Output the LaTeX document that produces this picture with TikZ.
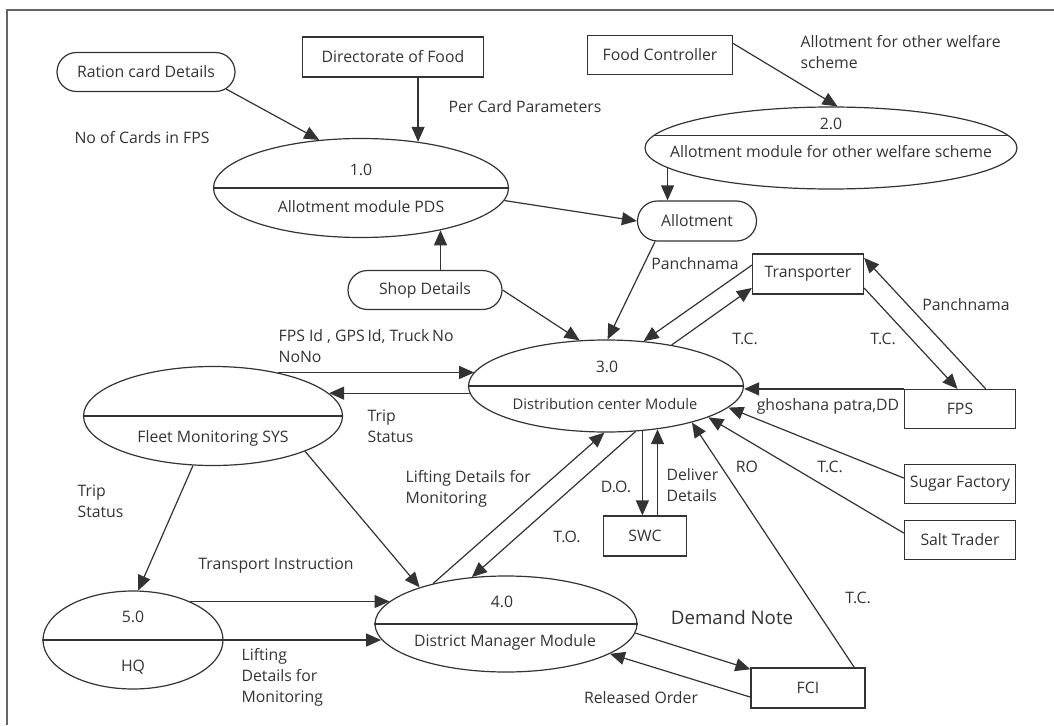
\documentclass[tikz,border=0pt]{standalone}
\usepackage{fontspec}
\setmainfont{Open Sans}
\usetikzlibrary{arrows.meta,shapes.geometric,shapes.misc}

\tikzset{
  proc/.style={draw, ellipse, inner sep=0pt},
  store/.style={draw, rounded rectangle, inner sep=0pt},
  ent/.style={draw, rectangle, inner sep=0pt},
  lbl/.style={align=left, inner sep=0pt},
}

\begin{document}
\begin{tikzpicture}[x=1pt, y=-1pt, line width=1.2pt, color=black!80,
  >={Triangle[length=15pt,width=13pt]}, font=\fontsize{15.8}{21}\selectfont]

\useasboundingbox (0,0) rectangle (1054,725);
\draw[line width=2pt, black!60] (7,725)--(7,10)--(1054,10);

% processes
\node[proc, minimum width=295pt, minimum height=99pt] (p1) at (361,188) {};
\node[proc, minimum width=372pt, minimum height=82pt] (p2) at (831,148) {};
\node[proc, minimum width=275pt, minimum height=92pt] (p3) at (606,386) {};
\node[proc, minimum width=262pt, minimum height=96pt] (p4) at (506,624) {};
\node[proc, minimum width=180pt, minimum height=98pt] (p5) at (133,640) {};
\node[proc, minimum width=259pt, minimum height=99pt] (fleet) at (213,416) {};

\draw (p1.west)--(p1.east);
\draw (p2.176)--(p2.4);
\draw (p3.west)--(p3.east);
\draw (p4.west)--(p4.east);
\draw (p5.west)--(p5.east);
\draw (fleet.west)--(fleet.east);

\node (p1num) at (361,170) {1.0};
\node (p1txt) at (361,207) {Allotment module PDS};
\node (p2num) at (831,124) {2.0};
\node (p2txt) at (831,152) {Allotment module for other welfare scheme};
\node (p3num) at (607,367) {3.0};
\node[font=\fontsize{14.7}{18}\selectfont] (p3txt) at (605,404) {Distribution center Module};
\node (p4num) at (502,602) {4.0};
\node (p4txt) at (505,642) {District Manager Module};
\node (p5num) at (133,617) {5.0};
\node (p5txt) at (133,667) {HQ};
\node (fleettxt) at (213,438) {Fleet Monitoring SYS};

% stores
\node[store, minimum width=178pt, minimum height=39pt] (ration) at (146,72) {Ration card Details};
\node[store, minimum width=119pt, minimum height=40pt] (allot) at (697,221) {Allotment};
\node[store, minimum width=154pt, minimum height=39pt] (shop) at (425,290) {Shop Details};

% external entities
\node[ent, minimum width=181pt, minimum height=40pt] (dirfood) at (393,57) {Directorate of Food};
\node[ent, minimum width=145pt, minimum height=39pt] (foodctrl) at (660,55) {Food Controller};
\node[ent, minimum width=111pt, minimum height=40pt] (transp) at (808,274) {Transporter};
\node[ent, minimum width=111pt, minimum height=39pt] (fps) at (960,409) {FPS};
\node[ent, minimum width=111pt, minimum height=39pt] (sugar) at (960,484) {Sugar Factory};
\node[ent, minimum width=111pt, minimum height=39pt] (salt) at (960,540) {Salt Trader};
\node[ent, minimum width=83pt, minimum height=40pt] (swc) at (645,536) {SWC};
\node[ent, minimum width=114pt, minimum height=40pt] (fci) at (808,688) {FCI};

% flows
\draw[->] (ration.-12)--(p1.131);
\draw[->] (dirfood.south -| p1.39)--(p1.39);
\draw[->] (foodctrl.9)--(p2.81);
\draw[->] (p2.187)--(p2.187 |- allot.north);
\draw[->] (p1.-5)--(allot.west);
\draw[->] (shop.north -| p1.-28)--(p1.-28);
\draw[->] (shop.east)--(p3.120);
\draw[->] (allot.206)--(p3.88);
\draw[->] (transp.171)--(p3.50);
\draw[->] (p3.32)--(transp.194);
\draw[->] (transp.-14)--(fps.97);
\draw[->] (fps.38)--(transp.16);
\draw[->] (fps.north west)--(fps.north west -| p3.east);
\draw[->] (sugar.174)--(p3.-10);
\draw[->] (salt.173)--(p3.-17);
\draw[->] (fci.24)--(p3.-23);
\draw[->] (p3.-51)--(p3.-51 |- swc.north);
\draw[->] (p3.-40 |- swc.north)--(p3.-40);
\draw[->] (p4.151)--(p3.-92);
\draw[->] (p3.-57)--(p4.126);
\draw[->] (fleet.34)--(fleet.34 -| p3.174);
\draw[->] (p3.183)--(p3.183 -| fleet.11);
\draw[->] (fleet.-112)--(p5.84);
\draw[->] (fleet.-21)--(p4.157);
\draw[->] (p5.34)--(p5.34 -| p4.169);
\draw[->] (p5.east)--(p5.east -| p4.187);
\draw[->] (p4.-4)--(fci.162);
\draw[->] (fci.189)--(p4.-16);

% flow labels
\node (lcards) at (142,138) {No of Cards in FPS};
\node[lbl, anchor=west] (lpercard) at (448,107) {Per Card Parameters};
\node[lbl, anchor=west] (lwelfare) at (800,52) {Allotment for other welfare\\scheme};
\node[lbl, anchor=west] (lfpsid) at (278,346) {FPS Id , GPS\,Id, Truck\,No\\NoNo};
\node[lbl, anchor=west] (ltrip) at (367,426) {Trip\\Status};
\node[lbl, anchor=west] (ltriphq) at (77,501) {Trip\\Status};
\node[lbl, anchor=west] (lliftdc) at (405,489) {Lifting Details for\\Monitoring};
\node (ltransport) at (276,566) {Transport Instruction};
\node[lbl, anchor=west] (lliftdm) at (241,677) {Lifting\\Details for\\Monitoring};
\node (lpanchdc) at (695,264) {Panchnama};
\node (lpanchfps) at (966,305) {Panchnama};
\node (ltcdc) at (745,339) {T.C.};
\node (ltcfps) at (883,339) {T.C.};
\node (lghosh) at (828,406) {ghoshana patra,DD};
\node (lro) at (747,467) {RO};
\node (ltcsalt) at (830,467) {T.C.};
\node (ldo) at (616,487) {D.O.};
\node[lbl, anchor=west] (ldeliver) at (666,485) {Deliver\\Details};
\node (lto) at (567,537) {T.O.};
\node (ltcfci) at (858,598) {T.C.};
\node[font=\fontsize{18.7}{22}\selectfont] (ldemand) at (732,617) {Demand Note};
\node (lreleased) at (641,698) {Released Order};

\end{tikzpicture}
\end{document}
